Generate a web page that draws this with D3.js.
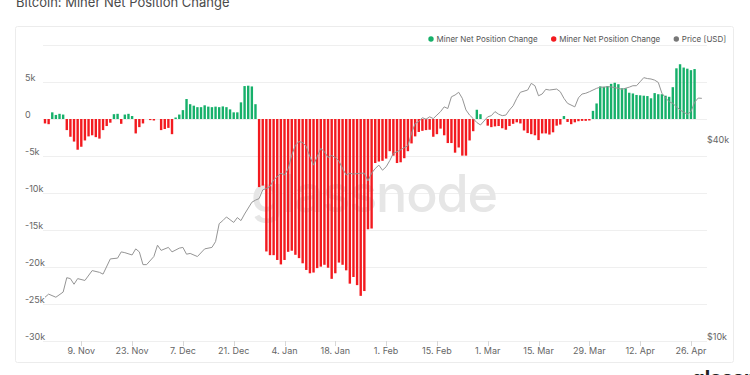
<!DOCTYPE html>
<html><head><meta charset="utf-8">
<script src="https://cdn.jsdelivr.net/npm/d3@7"></script>
<style>
html,body{margin:0;padding:0;background:#fff;}
svg{display:block;font-family:Inter,"Liberation Sans",Arial,sans-serif;}
</style></head>
<body>
<svg id="chart" width="750" height="375"></svg>
<script>
// ---------- DATA ----------
const startDay = "2020-10-30";
const netPositionChange = [
 -600,-700,900,550,700,600,-1500,-2400,-3050,-4150,
 -3750,-2900,-2350,-2200,-2450,-2650,-1500,-950,-500,650,
 700,-650,600,700,400,-1950,-1100,-600,0,-150,
 -200,0,-1500,-1350,-1200,-2050,200,600,1200,2700,
 2000,1800,1600,1600,1850,1670,1600,1670,1600,1700,
 1600,1300,900,900,2250,4450,4500,4400,2000,-9200,
 -9000,-17900,-18400,-18400,-19050,-19650,-19050,-17950,-17800,-18350,
 -18800,-19500,-20400,-20850,-20750,-20150,-19950,-19700,-20100,-21600,
 -20850,-19400,-19700,-20450,-22250,-21350,-22450,-23900,-23250,-14900,
 -14800,-5950,-5750,-5650,-5350,-4350,-4950,-5950,-5850,-5300,
 -4350,-3300,-2350,-1750,-1600,-1500,-1450,-2400,-2050,-1300,
 -2200,-3250,-3250,-4550,-3850,-4950,-4950,-2900,-1650,1250,
 650,0,-900,-1100,-1000,-950,-1250,-1450,-950,-650,
 -450,-600,-1550,-1900,-2050,-2200,-2850,-1950,-1950,-2100,
 -1800,-900,-750,400,-400,-700,-450,-300,-250,-250,
 -200,1100,2100,4400,4350,4450,4750,4900,4700,4150,
 4150,3550,3450,3250,3200,3150,3100,2800,3500,3350,
 3350,3150,3000,4300,6850,7400,6950,6800,6600,6750
];
// price readings: day offset from startDay, price in USD
const priceDay = [0,1,3,5,6,7,8,9,11,13,15,16,18,20,21,22,24,25,26,27,28,30,31,32,34,35,37,38,39,40,42,44,46,47,48,49,50,52,53,54,55,57,58,59,60,61,62,63,65,66,67,68,69,70,71,72,73,74,75,76,77,78,79,80,81,82,83,84,85,87,88,89,90,91,92,93,94,95,96,97,98,99,100,101,102,103,104,105,106,107,108,109,110,111,112,113,114,115,116,117,118,119,120,122,123,124,125,126,127,128,129,130,131,133,134,135,136,137,138,139,141,142,143,144,146,147,148,149,150,152,153,154,155,156,157,158,159,161,162,163,164,165,166,167,168,169,170,171,172,173,174,175,176,177,178,179,180,181];
const priceUSD = [13600,13900,13600,14100,15600,15500,14900,15500,15300,16400,16200,16000,17800,17900,18700,18600,18300,19100,18700,17100,17100,18100,19600,18900,19300,18700,19200,19300,18400,18500,18100,19100,19300,20100,22800,23300,23900,23000,23800,23300,24400,26500,26900,27200,28900,29200,29600,31000,32500,32100,33500,36900,39600,40600,40300,39200,36500,34400,36500,38700,37800,36300,36800,36300,35400,33600,32100,32500,32300,32500,32500,30800,32500,33600,34400,33200,34000,35500,37400,37800,38300,38900,39400,43000,46100,46700,48000,47500,48300,47700,48900,50100,51800,51200,55600,56300,57400,55000,50700,48900,47700,46400,45600,48300,48700,50100,49200,48700,48900,50700,52200,55000,57400,58300,61100,60100,56000,56700,58600,58300,58700,57600,55000,53100,51800,55200,56700,57000,57600,59000,59500,59500,59700,59600,59300,59000,58600,59500,60100,60100,61800,63600,63200,63000,62500,61500,57000,55200,53700,53100,51800,50700,49900,49200,50100,53500,55100,55000,54000];
const leftTicks = [5000,0,-5000,-10000,-15000,-20000,-25000,-30000];
const leftTickLabels = ["5k","0","-5k","-10k","-15k","-20k","-25k","-30k"];
const gridValues = [10000,5000,0,-5000,-10000,-15000,-20000,-25000,-30000];
const rightTicks = [40000,10000];
const rightTickLabels = ["$40k","$10k"];
const xTickDates = ["2020-11-09","2020-11-23","2020-12-07","2020-12-21","2021-01-04","2021-01-18","2021-02-01","2021-02-15","2021-03-01","2021-03-15","2021-03-29","2021-04-12","2021-04-26"];
const xTickLabels = ["9. Nov","23. Nov","7. Dec","21. Dec","4. Jan","18. Jan","1. Feb","15. Feb","1. Mar","15. Mar","29. Mar","12. Apr","26. Apr"];
const legendItems = ["Miner Net Position Change","Miner Net Position Change","Price [USD]"];

// ---------- SETUP ----------
const svg = d3.select("#chart");
const GREEN = "#16b06a", RED = "#f31a1f", GRAY = "#959595";
const parse = d3.utcParse("%Y-%m-%d");
const t0 = parse(startDay);
const dayDate = i => d3.utcDay.offset(t0, i);

const x = d3.scaleUtc().domain([t0, dayDate(180)]).range([45, 698.2]);
const yL = d3.scaleLinear().domain([-30000, 10000]).range([341, 45]);
const yR = d3.scaleLog().domain([10000, 80000]).range([341, 45]);

// title
svg.append("text").attr("x", 16).attr("y", 7).attr("font-size", 13)
  .attr("fill", "#4a4a4a").text("Bitcoin: Miner Net Position Change");

// card
svg.append("rect").attr("x", 15.5).attr("y", 26.5).attr("width", 718).attr("height", 336)
  .attr("rx", 2).attr("fill", "#fff").attr("stroke", "#ececec");

// gridlines
svg.append("g").selectAll("line").data(gridValues).join("line")
  .attr("x1", 43).attr("x2", 707)
  .attr("y1", d => Math.round(yL(d)) + 0.5).attr("y2", d => Math.round(yL(d)) + 0.5)
  .attr("stroke", "#efefef");

// watermark
svg.append("text").attr("x", 251).attr("y", 212).attr("font-size", 52)
  .attr("font-weight", 500).attr("fill", "#e6e6e6").attr("textLength", 247)
  .text("glassnode");

// left axis labels
svg.append("g").selectAll("text").data(leftTicks).join("text")
  .attr("x", 25).attr("y", d => yL(d) - 1).attr("font-size", 9).attr("fill", "#666")
  .text((d, i) => leftTickLabels[i]);

// right axis labels
svg.append("g").selectAll("text").data(rightTicks).join("text")
  .attr("x", 707).attr("y", d => yR(d) - 1).attr("font-size", 9).attr("fill", "#666")
  .text((d, i) => rightTickLabels[i]);

// x axis ticks & labels
const xTicks = xTickDates.map(parse);
const xg = svg.append("g");
xg.selectAll("line").data(xTicks).join("line")
  .attr("x1", d => Math.round(x(d)) + 0.5).attr("x2", d => Math.round(x(d)) + 0.5)
  .attr("y1", 341).attr("y2", 346).attr("stroke", "#d8d8d8");
xg.selectAll("text").data(xTicks).join("text")
  .attr("x", d => x(d)).attr("y", 354).attr("text-anchor", "middle")
  .attr("font-size", 9).attr("fill", "#666").text((d, i) => xTickLabels[i]);

// bars
const bw = 2.4;
svg.append("g").selectAll("rect").data(netPositionChange).join("rect")
  .attr("x", (d, i) => x(dayDate(i)) - bw / 2)
  .attr("width", bw)
  .attr("y", d => yL(Math.max(d, 0)))
  .attr("height", d => Math.abs(yL(d) - yL(0)))
  .attr("fill", d => d >= 0 ? GREEN : RED);

// price line
const pricePts = priceDay.map((d, i) => [dayDate(d), priceUSD[i]]);
svg.append("path").datum(pricePts)
  .attr("fill", "none").attr("stroke", GRAY).attr("stroke-width", 1)
  .attr("d", d3.line().x(d => x(d[0])).y(d => yR(d[1])).curve(d3.curveLinear));

// legend
const legColors = [GREEN, RED, "#777"];
const legX = [431, 553.7, 676.3];
const lg = svg.append("g");
legendItems.forEach((t, i) => {
  lg.append("circle").attr("cx", legX[i]).attr("cy", 39).attr("r", 2.7).attr("fill", legColors[i]);
  lg.append("text").attr("x", legX[i] + 5.5).attr("y", 42).attr("font-size", 8)
    .attr("fill", "#555").text(t);
});

// cut-off brand mark at bottom-right
svg.append("text").attr("x", 692).attr("y", 385).attr("font-size", 20)
  .attr("font-weight", 700).attr("fill", "#222").text("glassnode");
</script>
</body></html>
